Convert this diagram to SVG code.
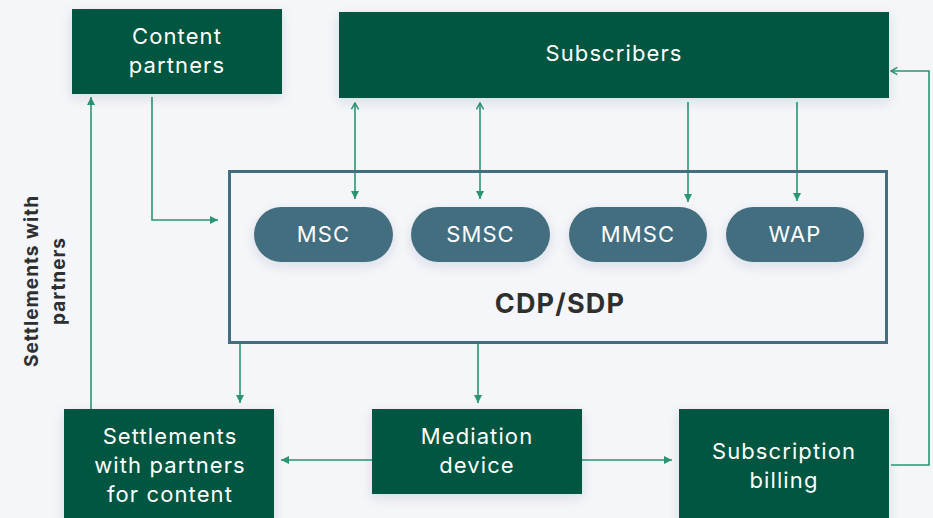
<svg xmlns="http://www.w3.org/2000/svg" width="933" height="518" viewBox="0 0 933 518">
<defs>
<style>
.box{fill:#04573f}
.pill{fill:#436e80}
.t{font-family:Inter,"Noto Sans",sans-serif;font-size:22px;font-weight:400;letter-spacing:1.1px;fill:#ffffff;text-anchor:middle}
.lbl{font-family:Inter,"Noto Sans",sans-serif;font-weight:700;fill:#2f2f2f;text-anchor:middle}
.c{fill:none;stroke:#2b9572;stroke-width:1.6}
</style>
<filter id="sh" x="-20%" y="-30%" width="140%" height="160%">
<feDropShadow dx="0" dy="4" stdDeviation="6" flood-color="#1a2a40" flood-opacity="0.12"/>
</filter>
<marker id="ah" viewBox="0 0 10 10" refX="10" refY="5" markerWidth="8" markerHeight="8" markerUnits="userSpaceOnUse" orient="auto">
<path d="M0,0 L10,5 L0,10 z" fill="#2b9572"/>
</marker>
<marker id="oh" viewBox="0 0 10 10" refX="9" refY="5" markerWidth="9" markerHeight="9" markerUnits="userSpaceOnUse" orient="auto-start-reverse">
<path d="M2,1 L9,5 L2,9" fill="none" stroke="#2b9572" stroke-width="1.6"/>
</marker>
</defs>
<rect width="933" height="518" fill="#f4f6fa"/>

<g id="connectors">
<path class="c" d="M355,103 V199" marker-start="url(#oh)" marker-end="url(#ah)"/>
<path class="c" d="M480,103 V199" marker-start="url(#oh)" marker-end="url(#ah)"/>
<path class="c" d="M688,102 V202" marker-end="url(#ah)"/>
<path class="c" d="M797,102 V201" marker-end="url(#ah)"/>
<path class="c" d="M891,465 H929 V71 H891" marker-end="url(#oh)"/>
<path class="c" d="M152,97 V220 H218" marker-end="url(#ah)"/>
<path class="c" d="M91,409 V97" marker-end="url(#ah)"/>
<path class="c" d="M240,344 V403" marker-end="url(#ah)"/>
<path class="c" d="M478,344 V403" marker-end="url(#ah)"/>
<path class="c" d="M372,460 H281" marker-end="url(#ah)"/>
<path class="c" d="M582,460 H672" marker-end="url(#ah)"/>
</g>

<g id="content-partners">
<rect class="box" x="72" y="9" width="210" height="85" filter="url(#sh)"/>
<text class="t" x="177" y="44">Content</text>
<text class="t" x="177" y="73">partners</text>
</g>

<g id="subscribers">
<rect class="box" x="339" y="12" width="550" height="86" filter="url(#sh)"/>
<text class="t" x="614" y="61">Subscribers</text>
</g>

<g id="cdp-sdp">
<rect x="229.5" y="171.5" width="657" height="171" fill="none" stroke="#436e80" stroke-width="3"/>
<text class="lbl" x="560" y="313" font-size="27" letter-spacing="1.2">CDP/SDP</text>
</g>

<g id="msc">
<rect class="pill" x="254" y="207" width="139" height="55" rx="27.5" filter="url(#sh)"/>
<text class="t" x="323.5" y="242">MSC</text>
</g>
<g id="smsc">
<rect class="pill" x="411" y="207" width="139" height="55" rx="27.5" filter="url(#sh)"/>
<text class="t" x="480.5" y="242">SMSC</text>
</g>
<g id="mmsc">
<rect class="pill" x="569" y="207" width="138" height="55" rx="27.5" filter="url(#sh)"/>
<text class="t" x="638" y="242">MMSC</text>
</g>
<g id="wap">
<rect class="pill" x="726" y="207" width="138" height="55" rx="27.5" filter="url(#sh)"/>
<text class="t" x="795" y="242">WAP</text>
</g>

<g id="settlements">
<rect class="box" x="64" y="409" width="210" height="115" filter="url(#sh)"/>
<text class="t" x="170" y="444">Settlements</text>
<text class="t" x="170" y="473">with partners</text>
<text class="t" x="170" y="502">for content</text>
</g>

<g id="mediation">
<rect class="box" x="372" y="409" width="210" height="85" filter="url(#sh)"/>
<text class="t" x="477" y="444">Mediation</text>
<text class="t" x="477" y="473">device</text>
</g>

<g id="subscription-billing">
<rect class="box" x="679" y="409" width="210" height="115" filter="url(#sh)"/>
<text class="t" x="784" y="459">Subscription</text>
<text class="t" x="784" y="488">billing</text>
</g>

<g id="side-label">
<text class="lbl" font-size="19" letter-spacing="1" transform="translate(38,281) rotate(-90)">Settlements with</text>
<text class="lbl" font-size="19" letter-spacing="1" transform="translate(65,281) rotate(-90)">partners</text>
</g>
</svg>
